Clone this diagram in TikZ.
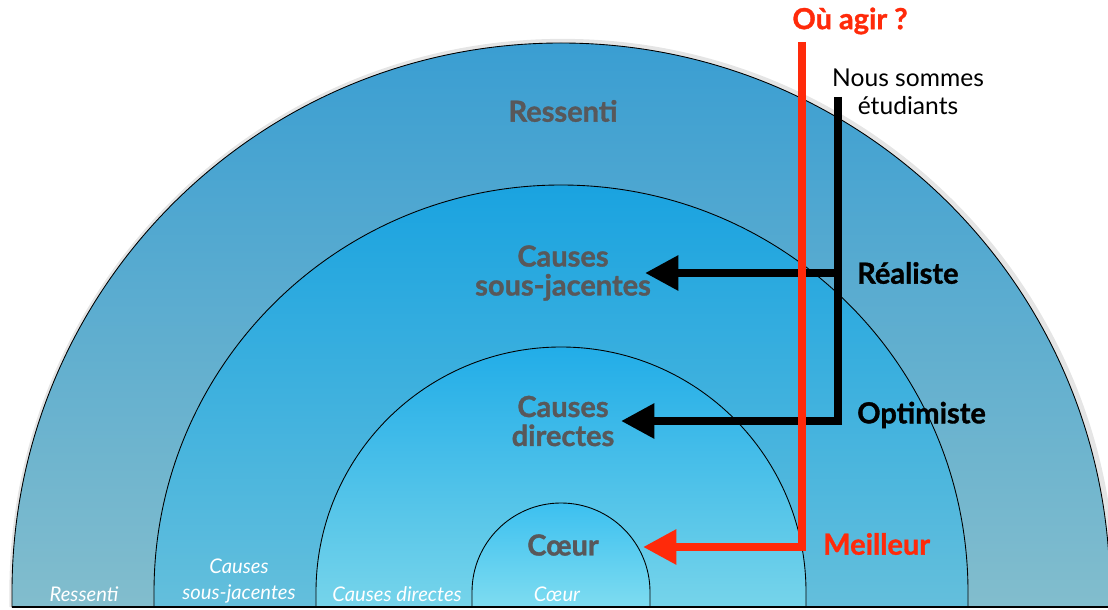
\documentclass[tikz,border=0pt]{standalone}
\usepackage{fontspec}
\setmainfont{Lato}
\newfontfamily\heavyfont{Lato}[BoldFeatures={FakeBold=1.2}]
\usepackage{tikz}
\usetikzlibrary{arrows.meta}

\definecolor{labelgray}{HTML}{58585A}
\definecolor{agirred}{HTML}{FF2A0A}
\definecolor{ringAtop}{HTML}{3A9ED2}
\definecolor{ringAbot}{HTML}{82BDCD}
\definecolor{ringBtop}{HTML}{1AA3E0}
\definecolor{ringBbot}{HTML}{64BFDC}
\definecolor{ringCtop}{HTML}{22ADE8}
\definecolor{ringCbot}{HTML}{76D4EA}
\definecolor{ringDtop}{HTML}{3CC0F0}
\definecolor{ringDbot}{HTML}{7EDCF0}

\tikzset{
  ring/.style={draw=black,line width=0.5pt},
  ringlabel/.style={font=\heavyfont\fontsize{16.5}{16.5}\selectfont\bfseries,text=labelgray,align=center},
  baselabel/.style={font=\fontsize{11.5}{14.7}\selectfont\itshape,text=white,align=center},
  sidelabel/.style={font=\heavyfont\fontsize{16.5}{16.5}\selectfont\bfseries,anchor=west},
  bararrow/.style={line width=4.5pt,-{Triangle[length=19pt,width=19pt]}},
}

\begin{document}
\begin{tikzpicture}[x=0.02cm,y=0.02cm]
\useasboundingbox (0,0) rectangle (1108,609);
\coordinate (c) at (561,17);
\begin{scope}
  \clip (0,0) rectangle (1108,609);
  \draw[black!10,line width=3pt] (12,2) -- (12,17) arc[start angle=180,end angle=0,radius=550.5];
  \shade[ring,top color=ringAtop,bottom color=ringAbot] (12,2) -- (12,17) arc[start angle=180,end angle=0,radius=549] -- (1110,2) -- cycle;
  \shade[ring,top color=ringBtop,bottom color=ringBbot] (154,2) -- (154,17) arc[start angle=180,end angle=0,radius=407] -- (968,2) -- cycle;
  \shade[ring,top color=ringCtop,bottom color=ringCbot] (316,2) -- (316,17) arc[start angle=180,end angle=0,radius=245] -- (806,2) -- cycle;
  \shade[ring,top color=ringDtop,bottom color=ringDbot] (472,2) -- (472,17) arc[start angle=180,end angle=0,radius=89] -- (650,2) -- cycle;
\end{scope}
\draw[line width=0.8pt] (12,2) -- (1108,2);

\node[ringlabel] (ressenti) at (563,498) {Ressenti};
\node[ringlabel] (sousjac) at (563,336) {Causes\\sous-jacentes};
\node[ringlabel] (directes) at (563,188) {Causes\\directes};
\node[ringlabel] (coeur) at (563,64) {Cœur};

\node[baselabel] (bressenti) at (84,15) {Ressenti};
\node[baselabel] (bsousjac) at (239,28) {Causes\\sous-jacentes};
\node[baselabel] (bdirectes) at (397,15) {Causes directes};
\node[baselabel] (bcoeur) at (557,15) {Cœur};

\node[sidelabel,text=agirred,anchor=center] (ouagir) at (850,588) {Où agir ?};
\node[font=\fontsize{14}{15.9}\selectfont,align=center] (nous) at (908,517) {Nous sommes\\étudiants};
\node[sidelabel] (realiste) at (851,336) {Réaliste};
\node[sidelabel] (optimiste) at (851,194) {Optimiste};
\node[sidelabel,text=agirred] (meilleur) at (817,65) {Meilleur};

\coordinate (blacktop) at (838,512);
\coordinate (blackcorner) at (838,188);
\coordinate (realfork) at (838,336);
\coordinate (realtip) at (645,336);
\coordinate (opttip) at (621,188);
\coordinate (redtop) at (802,567);
\coordinate (redcorner) at (802,62);
\coordinate (redtip) at (643,62);

\draw[bararrow] (blacktop) -- (blackcorner) -- (opttip);
\draw[bararrow] (realfork) -- (realtip);
\draw[bararrow,agirred] (redtop) -- (redcorner) -- (redtip);
\end{tikzpicture}
\end{document}
